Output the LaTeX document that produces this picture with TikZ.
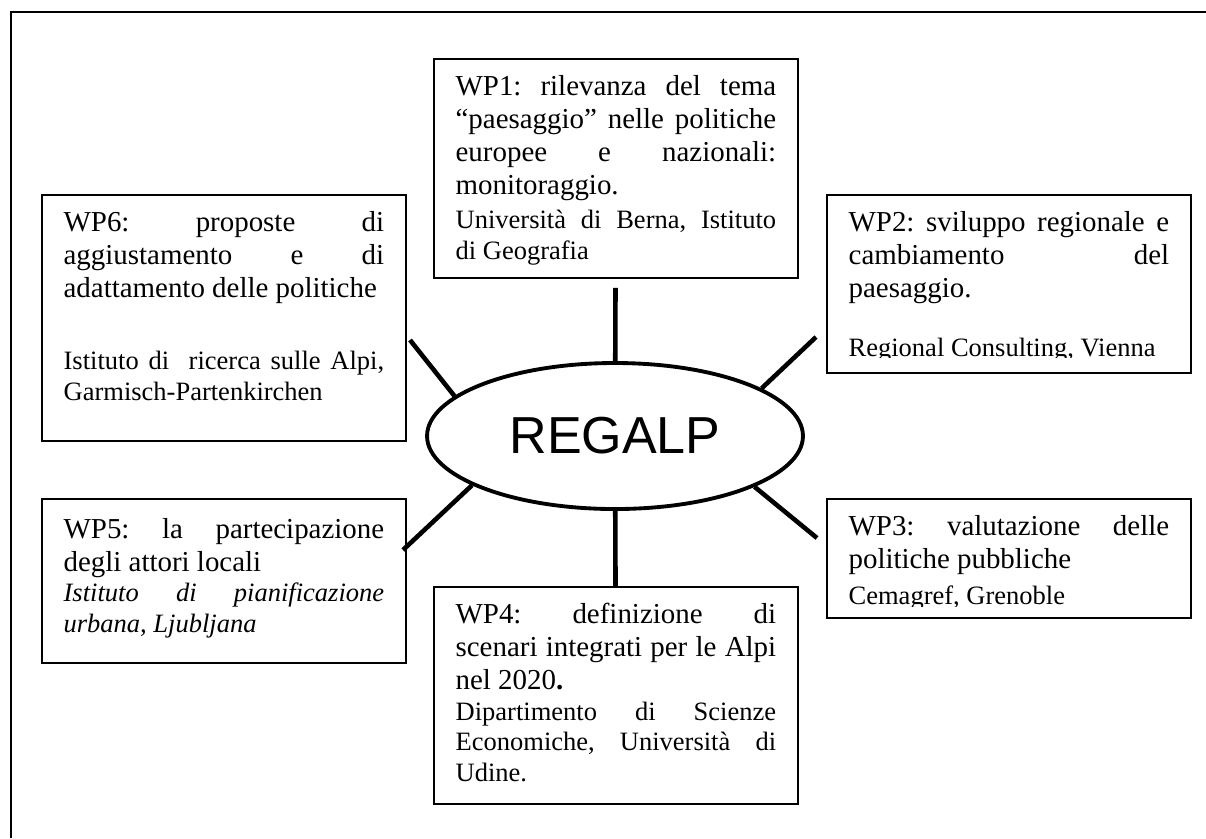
\documentclass[tikz,border=0pt]{standalone}
\usepackage{fontspec}
\setmainfont{Liberation Serif}
\newfontfamily\arialfont{Liberation Sans}
\usepackage{trimclip}
\usetikzlibrary{shapes.geometric}
\tolerance=10000
\hbadness=10000
\newcommand{\inst}{\fontsize{11}{12.65}\selectfont}
\newcommand{\cutline}[2]{\clipbox{0pt 0pt 0pt 0pt}{\raisebox{0pt}[\height][#1]{#2}}}

\begin{document}
\begin{tikzpicture}[x=0.415pt, y=-0.415pt,
    wpbox/.style={draw, line width=0.8pt, anchor=north west, text width=133pt, align=justify,
        inner xsep=9pt, inner ysep=0pt, text height=15pt, text depth=#1,
        font=\fontsize{12}{13.8}\selectfont,
        execute at begin node={\frenchspacing\fontsize{12}{13.8}\selectfont}},
    hub/.style={draw, ellipse, line width=1.6pt, minimum width=156pt, minimum height=60.6pt,
        inner sep=0pt, font=\arialfont\fontsize{21.6}{26}\selectfont},
    spoke/.style={line width=1.9pt},
    frame/.style={line width=0.8pt}]

    \useasboundingbox (0,0) rectangle (1206,838);
    \draw[frame] (11,838) |- (1206,12);

    % progetto
    \node[hub] (regalp) at (615,436) {REGALP};

    % work packages
    \node[wpbox=75.9pt] (wp1) at (433,58) {WP1: rilevanza del tema\linebreak
        “paesaggio” nelle politiche\linebreak europee e nazionali:\linebreak
        monitoraggio.\par\vspace{1.5pt}
        {\inst Università di Berna, Istituto\linebreak di Geografia\par}};
    \node[wpbox=58.9pt] (wp2) at (826,194) {WP2: sviluppo regionale e\linebreak
        cambiamento del\linebreak paesaggio.\par\vspace{11.7pt}
        {\inst\cutline{0.6pt}{Regional Consulting, Vienna}\par}};
    \node[wpbox=34.4pt] (wp3) at (826,498) {WP3: valutazione delle\linebreak
        politiche pubbliche\par\vspace{2.3pt}
        {\inst\cutline{1pt}{Cemagref, Grenoble}\par}};
    \node[wpbox=75.1pt] (wp4) at (433,586) {WP4: definizione di\linebreak
        scenari integrati per le Alpi\linebreak nel 2020\textbf{.}\par
        {\inst Dipartimento di Scienze\linebreak Economiche, Università di\linebreak
        Udine.\par}};
    \node[wpbox=51.9pt, text height=16.2pt] (wp5) at (41,498) {WP5: la partecipazione\linebreak
        degli attori locali\par
        {\inst\itshape Istituto di pianificazione\linebreak urbana, Ljubljana\par}};
    \node[wpbox=87.2pt] (wp6) at (41,194) {WP6: proposte di\linebreak
        aggiustamento e di\linebreak adattamento delle politiche\par\vspace{17.2pt}
        {\inst Istituto di~ ricerca sulle Alpi,\linebreak Garmisch-Partenkirchen\par}};

    % raggi
    \coordinate (t2) at (816,337);
    \coordinate (t3) at (817,538);
    \coordinate (t5) at (403,550);
    \coordinate (t6) at (410,340);

    \draw[spoke, shorten >=3.7pt] (regalp) -- (wp1);
    \draw[spoke] (regalp.18) -- (t2);
    \draw[spoke] (regalp.340) -- (t3);
    \draw[spoke] (regalp) -- (wp4);
    \draw[spoke] (regalp.199) -- (t5);
    \draw[spoke] (regalp.166) -- (t6);
\end{tikzpicture}
\end{document}
